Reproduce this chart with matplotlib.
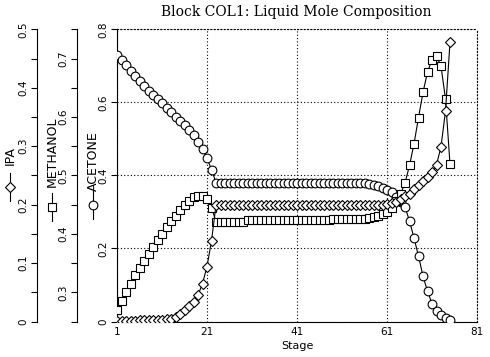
import matplotlib
matplotlib.use("Agg")
import matplotlib.pyplot as plt
from matplotlib.lines import Line2D

# liquid mole fractions per stage
stages = list(range(1, 76))
acetone = [0.730, 0.716, 0.702, 0.687, 0.672, 0.658, 0.645, 0.632, 0.620, 0.608,
           0.597, 0.585, 0.573, 0.561, 0.550, 0.537, 0.524, 0.510, 0.492, 0.472,
           0.447, 0.416,
           0.380, 0.380, 0.380, 0.380, 0.380, 0.380, 0.380, 0.380, 0.380, 0.380,
           0.380, 0.380, 0.380, 0.380, 0.380, 0.380, 0.380, 0.380, 0.379, 0.379,
           0.379, 0.379, 0.379, 0.379, 0.379, 0.379, 0.379, 0.379, 0.378, 0.378,
           0.378, 0.378, 0.378,
           0.378, 0.376, 0.373, 0.370, 0.366, 0.361, 0.354, 0.342, 0.328, 0.314,
           0.275, 0.229, 0.179, 0.124, 0.083, 0.049, 0.029, 0.017, 0.010, 0.003]
methanol = [0.270, 0.285, 0.300, 0.314, 0.329, 0.341, 0.354, 0.366, 0.378, 0.389,
            0.400, 0.411, 0.422, 0.431, 0.441, 0.450, 0.456, 0.463, 0.464, 0.464,
            0.459, 0.445,
            0.421, 0.421, 0.421, 0.421, 0.421, 0.421, 0.421,
            0.423, 0.423, 0.423, 0.423, 0.423, 0.423, 0.423, 0.423, 0.423, 0.423,
            0.423, 0.423, 0.423, 0.423, 0.423, 0.423, 0.423, 0.423, 0.423,
            0.425, 0.425, 0.425, 0.425, 0.425, 0.425, 0.425, 0.425,
            0.427, 0.428, 0.431, 0.434, 0.438, 0.445, 0.456, 0.468, 0.487, 0.517,
            0.554, 0.599, 0.642, 0.677, 0.698, 0.704, 0.687, 0.631, 0.519]
ipa = [0.001, 0.001, 0.001, 0.001, 0.001, 0.002, 0.002, 0.002, 0.002, 0.003,
       0.003, 0.004, 0.005, 0.008, 0.013, 0.019, 0.026, 0.034, 0.045, 0.065,
       0.094, 0.138,
       0.199, 0.199, 0.199, 0.199, 0.199, 0.199, 0.199, 0.199, 0.199, 0.199,
       0.200, 0.200, 0.200, 0.200, 0.200, 0.200, 0.200, 0.200, 0.200, 0.200,
       0.200, 0.200, 0.200, 0.200, 0.200, 0.200, 0.200, 0.200, 0.200, 0.200,
       0.200, 0.200, 0.200, 0.200, 0.200, 0.200, 0.200, 0.200,
       0.201, 0.203, 0.205, 0.209, 0.214, 0.219, 0.226, 0.234, 0.240, 0.248,
       0.256, 0.268, 0.299, 0.360, 0.478]

x_ticks = [1, 21, 41, 61, 81]
acetone_ticks = [0, 0.2, 0.4, 0.6, 0.8]
methanol_ticks = [0.3, 0.4, 0.5, 0.6, 0.7]
ipa_ticks = [0, 0.1, 0.2, 0.3, 0.4, 0.5]

W, H = 490, 357
plt.rcParams['font.family'] = 'DejaVu Sans'
fig = plt.figure(figsize=(W / 100, H / 100), dpi=100)
fig.patch.set_facecolor('white')

# main axes in pixel box 117..477 x 29..321
left, right, top, bottom = 117, 477, 29.3, 321.5
ax = fig.add_axes([left / W, 1 - bottom / H, (right - left) / W, (bottom - top) / H])

mk = dict(color='black', lw=0.8, mfc='white', mec='black', mew=0.8)

# acetone on the main axes
ax.plot(stages, acetone, marker='o', ms=6.3, **mk, zorder=3)
ax.set_xlim(1, 81)
ax.set_ylim(0, 0.8)
ax.set_xticks(x_ticks)
ax.set_xticklabels([str(v) for v in x_ticks], fontsize=7.5)
ax.set_yticks(acetone_ticks)
ax.set_yticklabels(['0', '0.2', '0.4', '0.6', '0.8'], fontsize=7.5)
ax.tick_params(axis='x', length=0, pad=4)
ax.tick_params(axis='y', length=4, width=0.8, pad=2)
ax.set_xlabel('Stage', fontsize=8, labelpad=3)
ax.grid(True, color='black', linestyle=(0, (1, 2)), linewidth=0.8)
ax.spines['top'].set_linestyle((0, (1, 2)))
ax.spines['right'].set_linestyle((0, (1, 2)))
for s in ax.spines.values():
    s.set_linewidth(0.8)
fig.text(296 / W, 1 - 12 / H, 'Block COL1: Liquid Mole Composition',
         family='DejaVu Serif', fontsize=10, ha='center', va='center')


def side_axis(offset_px, lo, hi, ticks, labels, minor):
    """Extra y axis drawn as a spine to the left of the main axes"""
    a = ax.twinx()
    a.set_ylim(lo, hi)
    a.spines['right'].set_visible(False)
    a.spines['top'].set_visible(False)
    a.spines['bottom'].set_visible(False)
    a.spines['left'].set_visible(True)
    a.spines['left'].set_position(('axes', offset_px / (right - left)))
    a.spines['left'].set_linewidth(0.8)
    a.yaxis.set_ticks_position('left')
    a.yaxis.set_label_position('left')
    a.set_yticks(ticks)
    a.set_yticklabels(labels, fontsize=7.5)
    a.set_yticks(minor, minor=True)
    a.tick_params(axis='y', which='both', length=4, width=0.8, pad=2)
    for t in a.get_yticklabels():
        t.set_rotation(90)
        t.set_va('center')
    return a


ax_m = side_axis(77 - left, 0.25, 0.75, methanol_ticks,
                 ['0.3', '0.4', '0.5', '0.6', '0.7'],
                 [0.25, 0.35, 0.45, 0.55, 0.65, 0.75])
ax_i = side_axis(37 - left, 0, 0.5, ipa_ticks,
                 ['0', '0.1', '0.2', '0.3', '0.4', '0.5'],
                 [0.05, 0.15, 0.25, 0.35, 0.45])

for t in ax.get_yticklabels():
    t.set_rotation(90)
    t.set_va('center')

ax_m.plot(stages, methanol, marker='s', ms=6, **mk, zorder=3)
ax_i.plot(stages, ipa, marker='D', ms=4.6, **mk, zorder=3)

# legend keys drawn vertically beside each axis
keys = [(10, 'D', 4.6, 187, 'IPA', 156),
        (52, 's', 6, 207, 'METHANOL', 152),
        (93, 'o', 6.3, 205, 'ACETONE', 161)]
for kx, m, ms, ky, name, ty in keys:
    fig.add_artist(Line2D([kx / W, kx / W], [1 - (ky + 14) / H, 1 - (ky - 14) / H],
                          transform=fig.transFigure, color='black', lw=0.8))
    fig.add_artist(Line2D([kx / W], [1 - ky / H], transform=fig.transFigure,
                          marker=m, ms=ms, mfc='white', mec='black', mew=0.8))
    fig.text(kx / W, 1 - ty / H, name, rotation=90, ha='center', va='center',
             fontsize=9)

fig.savefig('out.png', dpi=100)
